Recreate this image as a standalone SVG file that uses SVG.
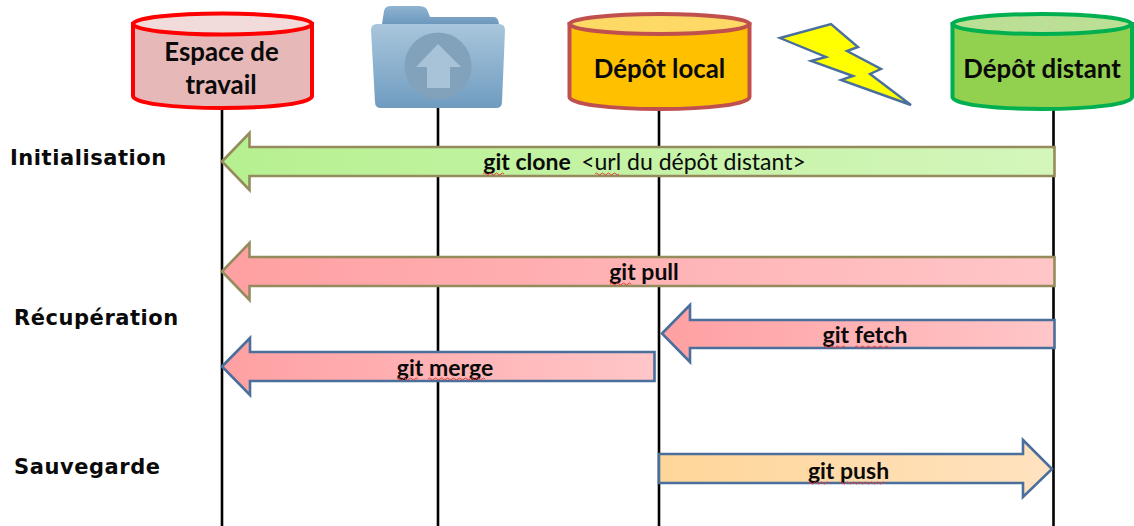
<svg xmlns="http://www.w3.org/2000/svg" width="1134" height="526" viewBox="0 0 1134 526">
<style>
.life{stroke:#000;stroke-width:2.6;fill:none}
.cyl{font:700 25.800px Lato,"Liberation Sans",sans-serif;fill:#0a0a0a;text-anchor:middle}
.arr{font:700 23px Lato,"Liberation Sans",sans-serif;fill:#0a0a0a;text-anchor:middle}
.reg{font-weight:400}
.phase{font:700 21px "DejaVu Sans",sans-serif;fill:#0a0a0a;letter-spacing:.55px}
.olive{stroke:#958c5d;stroke-width:2.6;stroke-linejoin:miter}
.blue{stroke:#4a6f9d;stroke-width:2.6;stroke-linejoin:miter}
.sq{fill:none;stroke:#e0403a;stroke-width:1}
</style>
<defs>
<linearGradient id="gGreen" x1="0" x2="1" y1="0" y2="0"><stop offset="0" stop-color="#b6f090"/><stop offset="1" stop-color="#d4f6bc"/></linearGradient>
<linearGradient id="gRed" x1="0" x2="1" y1="0" y2="0"><stop offset="0" stop-color="#ffa0a2"/><stop offset="1" stop-color="#ffc6c8"/></linearGradient>
<linearGradient id="gOrange" x1="0" x2="1" y1="0" y2="0"><stop offset="0" stop-color="#ffd699"/><stop offset="1" stop-color="#ffe2c0"/></linearGradient>
<linearGradient id="gFolder" x1="0" x2="0" y1="0" y2="1"><stop offset="0" stop-color="#a9c6dc"/><stop offset="1" stop-color="#6f9cc0"/></linearGradient>
<linearGradient id="gTab" x1="0" x2="0" y1="0" y2="1"><stop offset="0" stop-color="#8fb3d2"/><stop offset="1" stop-color="#6d98bd"/></linearGradient>
</defs>

<g id="lifelines">
<path class="life" d="M222 108V526"/>
<path class="life" d="M438 106V526"/>
<path class="life" d="M659 108V526"/>
<path class="life" d="M1053.500 108V526"/>
</g>

<g id="espace-de-travail">
<path d="M133 24V96C133 103 172 108 222.500 108S312 103 312 96V24Z" fill="#e6b8b7" stroke="#ff0000" stroke-width="4"/>
<ellipse cx="222.500" cy="24" rx="89.500" ry="10.500" fill="#f2dcdb" stroke="#ff0000" stroke-width="4"/>
<text class="cyl" x="221.500" y="61">Espace de</text>
<text class="cyl" x="221" y="94">travail</text>
</g>

<g id="dossier">
<path d="M382 24L384 11Q385 6 391 6H419Q427 6 428 12L430 17H494Q498 17 499 24Z" fill="url(#gTab)"/>
<path d="M371 30Q371 24 377 24H499Q505 24 505 30L502 102Q502 108 496 108H381Q375 108 375 102Z" fill="url(#gFolder)"/>
<circle cx="438" cy="66" r="33.500" fill="#82a1ba"/>
<path d="M438 44L461 67H450V88H427V67H416Z" fill="#a8c3d8"/>
</g>

<g id="depot-local">
<path d="M569.500 24V97C569.500 104 610 109 659.500 109S749.500 104 749.500 97V24Z" fill="#ffc000" stroke="#c0504d" stroke-width="4"/>
<ellipse cx="659.500" cy="24" rx="90" ry="10" fill="#ffd966" stroke="#c0504d" stroke-width="4"/>
<text class="cyl" x="659.500" y="78">Dépôt local</text>
</g>

<g id="eclair">
<path d="M780 38L831 24L858 47L847 51L881 69L870 74L911 105L841 80L853 76L811 61L826 57Z" fill="#ffff00" stroke="#4a6f9d" stroke-width="2.400" stroke-linejoin="miter"/>
</g>

<g id="depot-distant">
<path d="M952.500 24V97C952.500 104 992 109 1042 109S1132 104 1132 97V24Z" fill="#92d050" stroke="#00b050" stroke-width="4"/>
<ellipse cx="1042" cy="24" rx="89.500" ry="10" fill="#bbe095" stroke="#00b050" stroke-width="4"/>
<text class="cyl" x="1042" y="78">Dépôt distant</text>
</g>

<g id="connectors">
<g id="git-clone">
<path class="olive" fill="url(#gGreen)" d="M222 161.500L249.500 133V147H1054.500V176H249.500V190Z"/>
<text class="arr" y="170"><tspan x="527">git clone</tspan><tspan class="reg" x="693.500">&lt;url du dépôt distant&gt;</tspan></text>
<path class="sq" d="M483 174q1.500-2 3 0t3 0t3 0t3 0t3 0t3 0t3 0M595 174q1.500-2 3 0t3 0t3 0t3 0t3 0t3 0t3 0t3 0"/>
</g>
<g id="git-pull">
<path class="olive" fill="url(#gRed)" d="M222 271.500L249.500 243V257H1054.500V286H249.500V300Z"/>
<text class="arr" x="644" y="280">git pull</text>
<path class="sq" d="M610 284q1.500-2 3 0t3 0t3 0t3 0t3 0t3 0t3 0"/>
</g>
<g id="git-fetch">
<path class="blue" fill="url(#gRed)" d="M662 333.500L690 305V320H1054.500V348H690V362Z"/>
<text class="arr" x="865" y="343">git fetch</text>
<path class="sq" d="M824 347q1.500-2 3 0t3 0t3 0t3 0t3 0t3 0t3 0M855 347q1.500-2 3 0t3 0t3 0t3 0t3 0t3 0t3 0t3 0t3 0t3 0t3 0t3 0"/>
</g>
<g id="git-merge">
<path class="blue" fill="url(#gRed)" d="M222 366.500L250 338V352H654.500V381H250V395Z"/>
<text class="arr" x="445" y="376">git merge</text>
<path class="sq" d="M397 379q1.500-2 3 0t3 0t3 0t3 0t3 0t3 0t3 0M428 379q1.500-2 3 0t3 0t3 0t3 0t3 0t3 0t3 0t3 0t3 0t3 0t3 0t3 0t3 0t3 0t3 0t3 0t3 0t3 0t3 0"/>
</g>
<g id="git-push">
<path class="blue" fill="url(#gOrange)" d="M659 454H1023V440L1052 469L1023 497V483H659Z"/>
<text class="arr" x="848.500" y="479">git push</text>
<path class="sq" d="M808 483q1.500-2 3 0t3 0t3 0t3 0t3 0t3 0t3 0M840 483q1.500-2 3 0t3 0t3 0t3 0t3 0t3 0t3 0t3 0t3 0t3 0t3 0t3 0t3 0t3 0t3 0"/>
</g>
</g>

<g id="phases">
<text class="phase" x="10" y="165">Initialisation</text>
<text class="phase" x="14" y="325">Récupération</text>
<text class="phase" x="14" y="474">Sauvegarde</text>
</g>
</svg>
